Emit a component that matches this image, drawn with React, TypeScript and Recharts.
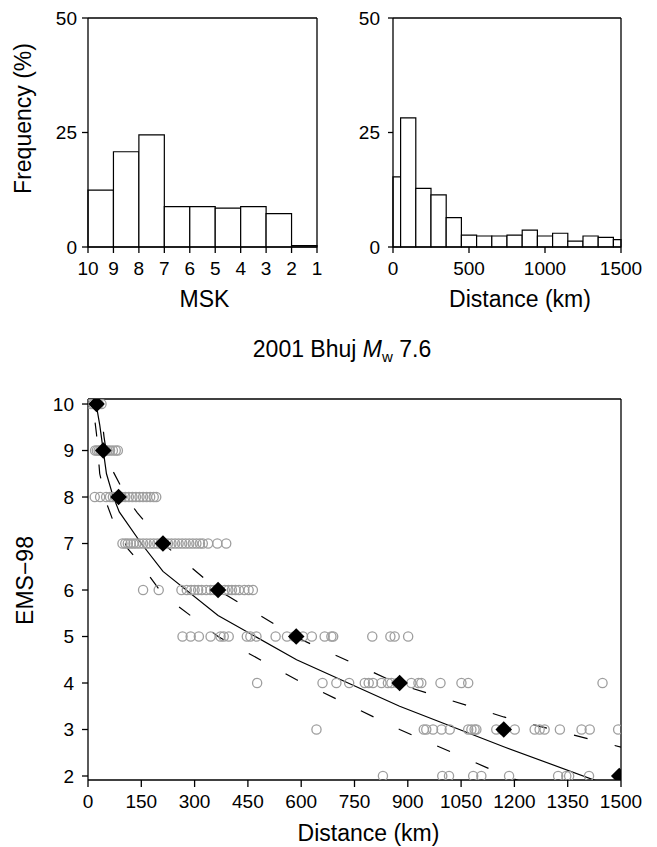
import {
  ComposedChart,
  XAxis,
  YAxis,
  ReferenceArea,
  Scatter,
  Line,
} from "recharts";

const FONT = '"Liberation Sans", Arial, Helvetica, sans-serif';
const AXIS = { stroke: "#000", strokeWidth: 1.3 };
const TICK = { fontSize: 19, fill: "#000", fontFamily: FONT };
const LABEL = { fontSize: 23, fill: "#000", fontFamily: FONT };

// top-left histogram: MSK intensity bins (10-9 ... 2-1), % of observations
const mskEdges = [10, 9, 8, 7, 6, 5, 4, 3, 2, 1];
const mskFreq = [12.4, 20.8, 24.5, 8.8, 8.8, 8.5, 8.8, 7.3, 0.3];

// top-right histogram: distance bins (km), % of observations
const distEdges = [0, 50, 150, 250, 350, 450, 550, 650, 750, 850, 950, 1050, 1150, 1250, 1350, 1450, 1500];
const distFreq = [15.3, 28.2, 12.8, 11.4, 6.4, 2.6, 2.4, 2.4, 2.6, 3.7, 2.4, 3.0, 1.3, 2.4, 2.1, 1.6];

const freqTicks = [0, 25, 50];
const freqMinorTicks = [0, 10, 20, 25, 30, 40, 50];
const distHistTicks = [0, 500, 1000, 1500];

// bottom panel: individual EMS-98 observations, distance (km) per level
const emsLevels = [10, 9, 8, 7, 6, 5, 4, 3, 2];
const obsDist = [
  [8, 15, 22, 30, 38],
  [20, 25, 30, 35, 40, 45, 50, 55, 62, 70, 78, 84],
  [19, 34, 51, 62, 70, 78, 86, 95, 105, 115, 125, 135, 145, 155, 165, 175, 185, 192],
  [97, 105, 112, 120, 128, 136, 145, 155, 165, 175, 185, 195, 205, 215, 225, 235, 245, 255, 265, 275, 285, 295, 305, 315, 323, 338, 364, 389],
  [155, 199, 263, 278, 290, 300, 310, 320, 333, 345, 355, 370, 385, 395, 405, 415, 425, 440, 452, 464],
  [266, 289, 312, 345, 373, 382, 396, 447, 457, 474, 528, 560, 580, 605, 630, 666, 685, 690, 800, 851, 863, 901],
  [476, 660, 699, 735, 779, 790, 802, 826, 844, 854, 870, 910, 930, 938, 992, 1051, 1070, 1448],
  [643, 945, 952, 971, 995, 1018, 1070, 1079, 1088, 1093, 1149, 1165, 1201, 1257, 1271, 1285, 1328, 1389, 1412, 1492],
  [830, 997, 1016, 1084, 1107, 1185, 1323, 1346, 1354, 1410],
];

// mean distance per intensity level (diamonds)
const meanDist = [24, 43, 86, 211, 366, 586, 877, 1170, 1495];

// fitted attenuation curve and +/- 1 sigma
const fitDist = [24, 33, 42, 52, 70, 88, 150, 211, 366, 587, 877, 1170, 1500];
const fitInt = [9.95, 9.55, 9.05, 8.5, 8.03, 7.68, 7.0, 6.4, 5.45, 4.5, 3.5, 2.63, 1.7];
const upperDist = [30, 45, 55, 70, 113, 139, 211, 366, 587, 877, 1170, 1500];
const upperInt = [10.3, 9.3, 8.79, 8.56, 7.93, 7.66, 7.0, 6.0, 4.98, 3.97, 3.27, 2.62];
const lowerDist = [20, 24, 33, 55, 70, 113, 141, 211, 366, 587, 877, 1170, 1500];
const lowerInt = [9.6, 9.35, 8.5, 7.81, 7.5, 6.88, 6.63, 5.9, 5.0, 4.07, 3.0, 2.02, 1.1];

const distTicks = [0, 150, 300, 450, 600, 750, 900, 1050, 1200, 1350, 1500];
const emsTicks = [2, 3, 4, 5, 6, 7, 8, 9, 10];

const toBins = (edges: number[], freq: number[]) =>
  freq.map((f, i) => ({ lo: edges[i], hi: edges[i + 1], x: (edges[i] + edges[i + 1]) / 2, y: f }));
const pairs = (xs: number[], ys: number[]) => xs.map((x, i) => ({ x, y: ys[i] }));

const mskBins = toBins(mskEdges, mskFreq);
const distBins = toBins(distEdges, distFreq);
const obsData = emsLevels.flatMap((lvl, i) => obsDist[i].map((d) => ({ x: d, y: lvl })));
const meanData = pairs(meanDist, emsLevels);
const fitData = pairs(fitDist, fitInt);
const upperData = pairs(upperDist, upperInt);
const lowerData = pairs(lowerDist, lowerInt);

// plot frame of the lower panel, used to clip the symbols at the axes
const EMS_CLIP = "ems-plot-clip";
const emsFrame = { left: 88, top: 19, width: 533, height: 381 };

const OpenCircle = (p: any) => (
  <circle
    cx={p.cx}
    cy={p.cy}
    r={4.6}
    fill="none"
    stroke="#9e9e9e"
    strokeWidth={1.3}
    clipPath={`url(#${EMS_CLIP})`}
  />
);

const Diamond = (p: any) => {
  const h = 8.3;
  return (
    <polygon
      points={`${p.cx},${p.cy - h} ${p.cx + h},${p.cy} ${p.cx},${p.cy + h} ${p.cx - h},${p.cy}`}
      fill="#000"
      clipPath={`url(#${EMS_CLIP})`}
    />
  );
};

// bin centres only keep the axes alive; the bars themselves are ReferenceAreas
const NoMark = () => <g />;

function Histogram({
  bins,
  domain,
  reversed,
  ticks,
  xLabel,
  labelDx,
  yWidth,
  yTickSize,
  yTickMargin,
  rightWidth,
  yLabel,
}: any) {
  return (
    <ComposedChart width={340} height={320} margin={{ top: 0, right: 0, bottom: 0, left: 0 }}>
      <XAxis
        xAxisId="b"
        type="number"
        dataKey="x"
        domain={domain}
        reversed={reversed}
        allowDataOverflow
        ticks={ticks}
        interval={0}
        height={73}
        tickSize={6}
        tickMargin={9}
        axisLine={AXIS}
        tickLine={AXIS}
        tick={TICK}
        label={{ value: xLabel, position: "insideBottom", offset: 13, dx: labelDx, ...LABEL }}
      />
      <XAxis
        xAxisId="t"
        orientation="top"
        type="number"
        domain={domain}
        reversed={reversed}
        allowDataOverflow
        ticks={ticks}
        interval={0}
        height={18}
        tickSize={6}
        tick={false}
        axisLine={AXIS}
        tickLine={AXIS}
      />
      <YAxis
        yAxisId="l"
        type="number"
        dataKey="y"
        domain={[0, 50]}
        allowDataOverflow
        ticks={freqTicks}
        interval={0}
        width={yWidth}
        tickSize={yTickSize}
        tickMargin={yTickMargin}
        axisLine={AXIS}
        tickLine={AXIS}
        tick={TICK}
        label={
          yLabel
            ? {
                value: yLabel,
                angle: -90,
                position: "insideLeft",
                offset: 23,
                dy: -14,
                style: { textAnchor: "middle" },
                ...LABEL,
              }
            : undefined
        }
      />
      <YAxis
        yAxisId="r"
        orientation="right"
        type="number"
        domain={[0, 50]}
        allowDataOverflow
        ticks={freqMinorTicks}
        interval={0}
        width={rightWidth}
        tickSize={5}
        tick={false}
        axisLine={AXIS}
        tickLine={AXIS}
      />
      <Scatter xAxisId="b" yAxisId="l" data={bins} shape={NoMark} isAnimationActive={false} />
      {bins.map((b: any, i: number) => (
        <ReferenceArea
          key={i}
          xAxisId="b"
          yAxisId="l"
          x1={b.lo}
          x2={b.hi}
          y1={0}
          y2={b.y}
          fill="#fff"
          fillOpacity={1}
          stroke="#000"
          strokeWidth={1.2}
          ifOverflow="visible"
        />
      ))}
    </ComposedChart>
  );
}

export default function App() {
  return (
    <div style={{ position: "absolute", left: 0, top: 0, width: 657, height: 847, fontFamily: FONT, background: "#fff" }}>
      <div style={{ position: "absolute", left: 0, top: 0 }}>
        <Histogram
          bins={mskBins}
          domain={[1, 10]}
          reversed
          ticks={mskEdges}
          xLabel="MSK"
          labelDx={2}
          yWidth={88}
          yTickSize={6}
          yTickMargin={5}
          rightWidth={23}
          yLabel="Frequency (%)"
        />
      </div>

      <div style={{ position: "absolute", left: 310, top: 0 }}>
        <Histogram
          bins={distBins}
          domain={[0, 1500]}
          reversed={false}
          ticks={distHistTicks}
          xLabel="Distance (km)"
          labelDx={13}
          yWidth={83}
          yTickSize={5}
          yTickMargin={8}
          rightWidth={29}
        />
      </div>

      <div
        style={{
          position: "absolute",
          left: 142,
          top: 338,
          width: 400,
          textAlign: "center",
          fontSize: 23,
          lineHeight: "23px",
          color: "#000",
          whiteSpace: "nowrap",
        }}
      >
        2001 Bhuj <i>M</i>
        <span style={{ fontSize: 15, position: "relative", top: 5 }}>w</span> 7.6
      </div>

      <div style={{ position: "absolute", left: 0, top: 380 }}>
        <ComposedChart width={657} height={467} margin={{ top: 0, right: 0, bottom: 0, left: 0 }}>
          <defs>
            <clipPath id={EMS_CLIP} clipPathUnits="userSpaceOnUse">
              <rect x={emsFrame.left} y={emsFrame.top} width={emsFrame.width} height={emsFrame.height} />
            </clipPath>
          </defs>
          <XAxis
            type="number"
            dataKey="x"
            domain={[0, 1500]}
            allowDataOverflow
            ticks={distTicks}
            interval={0}
            height={67}
            tickSize={7}
            tickMargin={8}
            axisLine={AXIS}
            tickLine={AXIS}
            tick={TICK}
            label={{ value: "Distance (km)", position: "insideBottom", offset: 6, dx: 14, ...LABEL }}
          />
          <XAxis
            xAxisId="t"
            orientation="top"
            type="number"
            domain={[0, 1500]}
            allowDataOverflow
            ticks={distTicks}
            interval={0}
            height={19}
            tickSize={7}
            tick={false}
            axisLine={AXIS}
            tickLine={AXIS}
          />
          <YAxis
            type="number"
            dataKey="y"
            domain={[1.914, 10.108]}
            allowDataOverflow
            ticks={emsTicks}
            interval={0}
            width={88}
            tickSize={6}
            tickMargin={8}
            axisLine={AXIS}
            tickLine={AXIS}
            tick={TICK}
            label={{
              value: "EMS\u221298",
              angle: -90,
              position: "insideLeft",
              offset: 25,
              dy: -9,
              style: { textAnchor: "middle" },
              ...LABEL,
            }}
          />
          <YAxis
            yAxisId="r"
            orientation="right"
            type="number"
            domain={[1.914, 10.108]}
            allowDataOverflow
            ticks={emsTicks}
            interval={0}
            width={36}
            tickSize={7}
            tick={false}
            axisLine={AXIS}
            tickLine={AXIS}
          />
          <Scatter data={obsData} shape={OpenCircle} isAnimationActive={false} />
          <Line
            data={upperData}
            dataKey="y"
            type="linear"
            stroke="#000"
            strokeWidth={1.2}
            strokeDasharray="14 28"
            dot={false}
            activeDot={false}
            isAnimationActive={false}
          />
          <Line
            data={lowerData}
            dataKey="y"
            type="linear"
            stroke="#000"
            strokeWidth={1.2}
            strokeDasharray="14 28"
            dot={false}
            activeDot={false}
            isAnimationActive={false}
          />
          <Line
            data={fitData}
            dataKey="y"
            type="linear"
            stroke="#000"
            strokeWidth={1.2}
            dot={false}
            activeDot={false}
            isAnimationActive={false}
          />
          <Scatter data={meanData} shape={Diamond} isAnimationActive={false} />
        </ComposedChart>
      </div>
    </div>
  );
}
